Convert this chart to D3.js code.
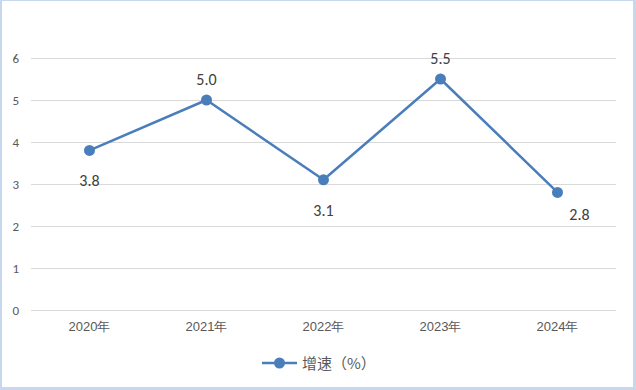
<!DOCTYPE html>
<html><head><meta charset="utf-8">
<script src="https://cdn.jsdelivr.net/npm/d3@7"></script>
<style>
body{margin:0;background:#fff;}
svg{display:block;font-family:"Noto Sans CJK SC","DejaVu Sans",sans-serif;}
</style></head><body>
<svg id="c" width="636" height="390"></svg>
<script>
const categories = ["2020年","2021年","2022年","2023年","2024年"];
const values = [3.8, 5.0, 3.1, 5.5, 2.8];
const yTicks = [0,1,2,3,4,5,6];
const labelPos = ["below","above","below","above","right"];
const seriesName = "增速（%）";

const W=636,H=390;
const svg=d3.select("#c");
svg.append("rect").attr("x",0).attr("y",0).attr("width",W).attr("height",H).attr("fill","#fff");
// border
svg.append("rect").attr("x",0).attr("y",0).attr("width",W).attr("height",1).attr("fill","#c6d7ee");
svg.append("rect").attr("x",0).attr("y",0).attr("width",2).attr("height",H).attr("fill","#c6d7ee");
svg.append("rect").attr("x",W-3).attr("y",0).attr("width",3).attr("height",H).attr("fill","#c6d7ee");
svg.append("rect").attr("x",0).attr("y",H-3).attr("width",W).attr("height",3).attr("fill","#c6d7ee");

const x=d3.scaleBand().domain(categories).range([31,616]);
const y=d3.scaleLinear().domain([0,6]).range([310,58]);

const numFont="Calibri,Carlito,'Liberation Sans','Noto Sans',sans-serif";

const gy=svg.append("g").attr("transform","translate(31,0)")
  .call(d3.axisLeft(y).tickValues(yTicks).tickSize(-585).tickPadding(12).tickFormat(d3.format("d")));
gy.select(".domain").remove();
gy.selectAll(".tick line").attr("stroke","#d9d9d9").attr("stroke-width",1);
gy.selectAll(".tick text").attr("fill","#595959").attr("font-size",13).attr("font-family",numFont);

const gx=svg.append("g").attr("transform","translate(0,310)")
  .call(d3.axisBottom(x).tickSize(0).tickPadding(12));
gx.select(".domain").remove();
gx.selectAll(".tick text").attr("fill","#595959").attr("font-size",13).attr("dy","0.72em");

const color="#4a7ebb";
const line=d3.line().x((d,i)=>x(categories[i])+x.bandwidth()/2).y(d=>y(d));
svg.append("path").datum(values).attr("d",line).attr("fill","none").attr("stroke",color).attr("stroke-width",2.5).attr("stroke-linejoin","round");
svg.selectAll("circle.pt").data(values).join("circle").attr("class","pt")
  .attr("cx",(d,i)=>x(categories[i])+x.bandwidth()/2).attr("cy",d=>y(d)).attr("r",5.5).attr("fill",color);

svg.selectAll("text.lbl").data(values).join("text").attr("class","lbl")
  .attr("x",(d,i)=>x(categories[i])+x.bandwidth()/2+(labelPos[i]==="right"?22:0))
  .attr("y",(d,i)=>y(d)+(labelPos[i]==="above"?-15:labelPos[i]==="below"?36:28))
  .attr("text-anchor","middle").attr("fill","#404040").attr("font-size",16)
  .attr("font-family",numFont)
  .text(d=>d.toFixed(1));

// legend
const lg=svg.append("g");
lg.append("line").attr("x1",262).attr("x2",297).attr("y1",363).attr("y2",363).attr("stroke",color).attr("stroke-width",2.5);
lg.append("circle").attr("cx",279.5).attr("cy",363).attr("r",5.5).attr("fill",color);
lg.append("text").attr("x",302).attr("y",369).attr("fill","#595959").attr("font-size",15).text(seriesName);
</script>
</body></html>
